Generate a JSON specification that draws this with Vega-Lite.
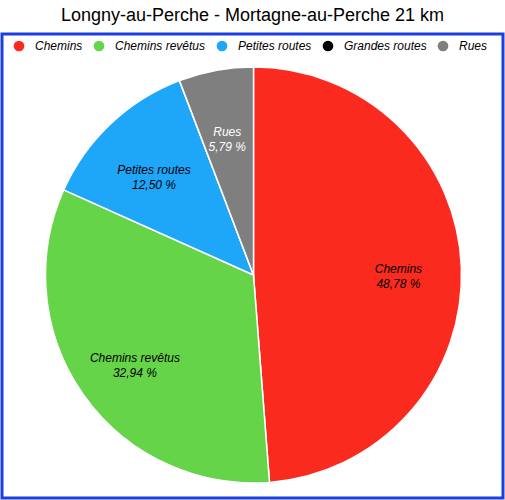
{
  "$schema": "https://vega.github.io/schema/vega-lite/v6.json",
  "width": 501,
  "height": 464,
  "autosize": "none",
  "padding": {"left": 2, "top": 34, "right": 2, "bottom": 2},
  "background": "white",
  "title": {
    "text": "Longny-au-Perche - Mortagne-au-Perche 21 km",
    "font": "Liberation Sans",
    "fontSize": 18,
    "fontWeight": "normal",
    "color": "black",
    "anchor": "middle",
    "offset": 8
  },
  "layer": [
    {
      "data": {"values": [{"box": 1}]},
      "mark": {"type": "rect", "fill": null, "stroke": "#1c3fe0", "strokeWidth": 3},
      "encoding": {
        "x": {"value": 0},
        "x2": {"value": "width"},
        "y": {"value": 0},
        "y2": {"value": "height"}
      }
    },
    {
      "data": {
        "values": [
          {"i": 1, "cat": "Chemins", "v": 48.78, "label": "Chemins\n48,78 %"},
          {"i": 2, "cat": "Chemins revêtus", "v": 32.94, "label": "Chemins revêtus\n32,94 %"},
          {"i": 3, "cat": "Petites routes", "v": 12.50, "label": "Petites routes\n12,50 %"},
          {"i": 4, "cat": "Grandes routes", "v": 0, "label": "Grandes routes\n0,00 %"},
          {"i": 5, "cat": "Rues", "v": 5.79, "label": "Rues\n5,79 %"}
        ]
      },
      "encoding": {
        "theta": {"field": "v", "type": "quantitative", "stack": true},
        "order": {"field": "i", "type": "quantitative"}
      },
      "layer": [
        {
          "mark": {"type": "arc", "radius": 208, "stroke": "white", "strokeWidth": 1.5, "yOffset": 9, "xOffset": 1},
          "encoding": {
            "color": {
              "field": "cat",
              "type": "nominal",
              "sort": null,
              "scale": {
                "domain": ["Chemins", "Chemins revêtus", "Petites routes", "Grandes routes", "Rues"],
                "range": ["#fa2a1f", "#65d448", "#1ea6f9", "#000000", "#7f7f7f"]
              },
              "legend": {
                "title": null,
                "orient": "none",
                "direction": "horizontal",
                "columns": 5,
                "legendX": 11,
                "legendY": 6,
                "symbolType": "circle",
                "symbolSize": 115,
                "symbolStrokeWidth": 0,
                "labelFont": "Liberation Sans",
                "labelFontSize": 12,
                "labelFontStyle": "italic",
                "labelColor": "black",
                "labelOffset": 10,
                "columnPadding": 10
              }
            }
          }
        },
        {
          "transform": [{"filter": "datum.v > 0"}],
          "mark": {
            "type": "text",
            "radius": 145,
            "yOffset": 9,
            "xOffset": 1,
            "font": "Liberation Sans",
            "fontSize": 12,
            "fontStyle": "italic",
            "lineBreak": "\n",
            "lineHeight": 15
          },
          "encoding": {
            "text": {"field": "label"},
            "color": {
              "condition": {"test": "datum.cat === 'Rues'", "value": "white"},
              "value": "black"
            }
          }
        }
      ]
    }
  ]
}
